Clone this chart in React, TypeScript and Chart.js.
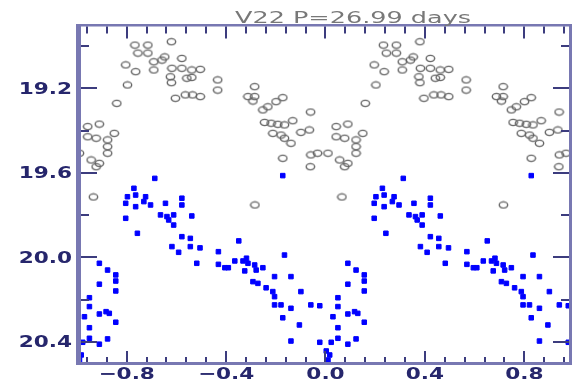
import React, { useEffect, useRef } from 'react';
import { Chart, registerables } from 'chart.js';

Chart.register(...registerables);

const titleText = 'V22 P=26.99 days';

// one cycle of the phased light curve (phase in [0,1)), plotted twice (phase-1 and phase)
const openPhase = [
  0.010, 0.043, 0.090, 0.043, 0.077, 0.150, 0.123, 0.123, 0.123, 0.057, 0.090, 0.077, 0.066,
  0.160, 0.203, 0.196, 0.236, 0.233, 0.285, 0.245, 0.285, 0.309, 0.342, 0.353, 0.380, 0.422,
  0.309, 0.382, 0.422, 0.462, 0.496, 0.376, 0.380, 0.442, 0.462, 0.396, 0.436, 0.496, 0.465,
  0.566, 0.566,
  0.715, 0.688, 0.715, 0.708, 0.828, 0.801, 0.768, 0.748, 0.940, 0.755, 0.781, 0.808, 0.835,
  0.868, 0.935, 0.901, 0.788, 0.821, 0.835, 0.861, 0.828, 0.968, 0.941, 0.939, 0.716,
];
const openMag = [
  19.507, 19.381, 19.369, 19.429, 19.436, 19.413, 19.444, 19.476, 19.507, 19.539, 19.555, 19.571, 19.714,
  19.271, 19.184, 19.089, 19.121, 18.995, 18.995, 19.033, 19.033, 19.074, 19.066, 19.051, 18.979, 19.058,
  19.113, 19.105, 19.105, 19.113, 19.110, 19.145, 19.173, 19.152, 19.148, 19.247, 19.231, 19.239, 19.231,
  19.160, 19.208,
  19.192, 19.239, 19.239, 19.260, 19.244, 19.263, 19.287, 19.302, 19.312, 19.361, 19.365, 19.370, 19.373,
  19.353, 19.397, 19.408, 19.413, 19.421, 19.436, 19.460, 19.531, 19.507, 19.515, 19.571, 19.752,
];

const bluePhase = [
  0.003, 0.017, 0.010, 0.023, 0.050, 0.090, 0.123, 0.050, 0.030, 0.050, 0.090, 0.117, 0.130,
  0.156, 0.050, 0.090, 0.156, 0.090, 0.123, 0.156, 0.156, 0.977, 0.977,
  0.196, 0.196, 0.203, 0.229, 0.236, 0.276, 0.236, 0.269, 0.296, 0.313, 0.243, 0.356, 0.336,
  0.362, 0.389, 0.369, 0.389, 0.422, 0.422, 0.462, 0.422, 0.456, 0.382, 0.409, 0.456, 0.482, 0.495,
  0.569, 0.569, 0.595, 0.609, 0.635, 0.668, 0.682, 0.688, 0.651, 0.675, 0.715, 0.721, 0.748,
  0.835, 0.795, 0.861, 0.708, 0.728, 0.761, 0.788, 0.795, 0.901, 0.795, 0.821, 0.861, 0.941,
  0.828, 0.895, 0.861, 0.828,
];
const blueMag = [
  20.443, 20.462, 20.486, 20.402, 20.383, 20.411, 20.386, 20.333, 20.281, 20.233, 20.268, 20.257, 20.265,
  20.307, 20.191, 20.127, 20.159, 20.028, 20.060, 20.083, 20.112, 20.229, 20.402,
  19.815, 19.744, 19.713, 19.673, 19.705, 19.713, 19.760, 19.736, 19.752, 19.626, 19.886, 19.744, 19.799,
  19.807, 19.799, 19.823, 19.847, 19.720, 19.752, 19.804, 19.902, 19.910, 19.949, 19.976, 19.949, 20.028, 19.955,
  19.973, 20.033, 20.049, 20.049, 20.017, 20.017, 20.004, 20.028, 19.922, 20.064, 20.036, 20.060, 20.049,
  19.989, 20.091, 20.091, 20.115, 20.123, 20.144, 20.162, 20.186, 20.162, 20.225, 20.225, 20.241, 20.225,
  20.286, 20.320, 20.396, 19.613,
];

const xMajorTicks = [-0.8, -0.4, 0.0, 0.4, 0.8];
const xTickLabels = ['\u22120.8', '\u22120.4', '0.0', '0.4', '0.8'];
const xMinorTicks = [
  -0.96, -0.88, -0.72, -0.64, -0.56, -0.48, -0.32, -0.24, -0.16, -0.08,
  0.08, 0.16, 0.24, 0.32, 0.48, 0.56, 0.64, 0.72, 0.88, 0.96,
];
const yMajorTicks = [19.2, 19.6, 20.0, 20.4];
const yTickLabels = ['19.2', '19.6', '20.0', '20.4'];
const yMinorTicks = [19.0, 19.4, 19.8, 20.2];

function fold(phases: number[], mags: number[]) {
  const out: { x: number; y: number }[] = [];
  phases.forEach((p, i) => {
    out.push({ x: p - 1, y: mags[i] });
    out.push({ x: p, y: mags[i] });
  });
  return out;
}

function makeOpenMarker() {
  const c = document.createElement('canvas');
  c.width = 11;
  c.height = 9;
  const g = c.getContext('2d');
  if (g) {
    g.strokeStyle = '#656565';
    g.lineWidth = 1.4;
    g.beginPath();
    g.ellipse(5.5, 4.5, 4.2, 3.1, 0, 0, Math.PI * 2);
    g.stroke();
  }
  return c;
}

const framePlugin = {
  id: 'pgframe',
  afterDatasetsDraw(chart: any) {
    const { ctx, chartArea: a, scales } = chart;
    const xs = scales.x;
    const ys = scales.y;
    const w = a.right - a.left;
    const h = a.bottom - a.top;
    ctx.save();
    ctx.fillStyle = '#7878b2';
    ctx.fillRect(a.left - 2, a.top - 1, 5, h + 3);
    ctx.fillRect(a.left - 2, a.top - 1, w + 3, 2.5);
    ctx.fillRect(a.right - 2, a.top - 1, 3, h + 3);
    ctx.fillRect(a.left - 2, a.bottom - 1, w + 3, 3);
    ctx.strokeStyle = '#3c3c7e';
    ctx.lineWidth = 2;
    const yTick = (v: number, len: number) => {
      const y = Math.round(ys.getPixelForValue(v));
      ctx.beginPath();
      ctx.moveTo(a.left + 3, y);
      ctx.lineTo(a.left + 3 + len, y);
      ctx.moveTo(a.right - 2, y);
      ctx.lineTo(a.right - 2 - len, y);
      ctx.stroke();
    };
    const xTick = (v: number, lenB: number, lenT: number) => {
      const x = Math.round(xs.getPixelForValue(v));
      ctx.beginPath();
      ctx.moveTo(x, a.bottom - 1);
      ctx.lineTo(x, a.bottom - 1 - lenB);
      ctx.moveTo(x, a.top + 1.5);
      ctx.lineTo(x, a.top + 1.5 + lenT);
      ctx.stroke();
    };
    yMajorTicks.forEach((v) => yTick(v, 16));
    yMinorTicks.forEach((v) => yTick(v, 8));
    xMajorTicks.forEach((v) => xTick(v, 11, 12));
    xMinorTicks.forEach((v) => xTick(v, 5, 7));
    ctx.restore();
  },
  afterDraw(chart: any) {
    const { ctx, chartArea: a, scales } = chart;
    const xs = scales.x;
    const ys = scales.y;
    ctx.save();
    ctx.fillStyle = '#26266c';
    ctx.font = 'bold 16px "DejaVu Sans"';
    ctx.textBaseline = 'middle';
    yMajorTicks.forEach((v, i) => {
      ctx.save();
      ctx.translate(a.left - 6, ys.getPixelForValue(v) + 1);
      ctx.scale(1.35, 1);
      ctx.textAlign = 'right';
      ctx.fillText(yTickLabels[i], 0, 0);
      ctx.restore();
    });
    xMajorTicks.forEach((v, i) => {
      ctx.save();
      ctx.translate(xs.getPixelForValue(v), a.bottom + 12);
      ctx.scale(1.35, 1);
      ctx.textAlign = 'center';
      ctx.fillText(xTickLabels[i], 0, 0);
      ctx.restore();
    });
    ctx.fillStyle = '#787878';
    ctx.font = '15px "DejaVu Sans"';
    ctx.textBaseline = 'alphabetic';
    ctx.textAlign = 'left';
    ctx.translate(235, a.top - 2);
    ctx.scale(1.7, 1);
    ctx.fillText(titleText, 0, 0);
    ctx.restore();
  },
};

export default function App() {
  const canvasRef = useRef<HTMLCanvasElement | null>(null);

  useEffect(() => {
    const canvas = canvasRef.current;
    if (!canvas) return;
    const openMarker = makeOpenMarker();
    const chart = new Chart(canvas, {
      type: 'scatter',
      data: {
        datasets: [
          {
            label: 'open',
            data: fold(openPhase, openMag),
            pointStyle: openMarker,
            pointRadius: 4,
            showLine: false,
          },
          {
            label: 'blue',
            data: fold(bluePhase, blueMag),
            pointStyle: 'rect',
            pointRadius: 3.2,
            pointBorderWidth: 1,
            pointBorderColor: '#0000ff',
            pointBackgroundColor: '#0000ff',
            showLine: false,
          },
        ],
      },
      options: {
        responsive: false,
        devicePixelRatio: 1,
        animation: false,
        layout: { padding: { left: 78, right: 1, top: 25, bottom: 23 } },
        scales: {
          x: { type: 'linear', display: false, min: -0.996, max: 0.988 },
          y: { type: 'linear', display: false, min: 18.9, max: 20.5, reverse: true },
        },
        plugins: {
          legend: { display: false },
          tooltip: { enabled: false },
          title: { display: false },
        },
      },
      plugins: [framePlugin],
    });
    return () => chart.destroy();
  }, []);

  return (
    <div style={{ position: 'fixed', left: 0, top: 0, width: 576, height: 386, background: '#ffffff' }}>
      <canvas ref={canvasRef} width={576} height={386} style={{ display: 'block', width: 576, height: 386 }} />
    </div>
  );
}
